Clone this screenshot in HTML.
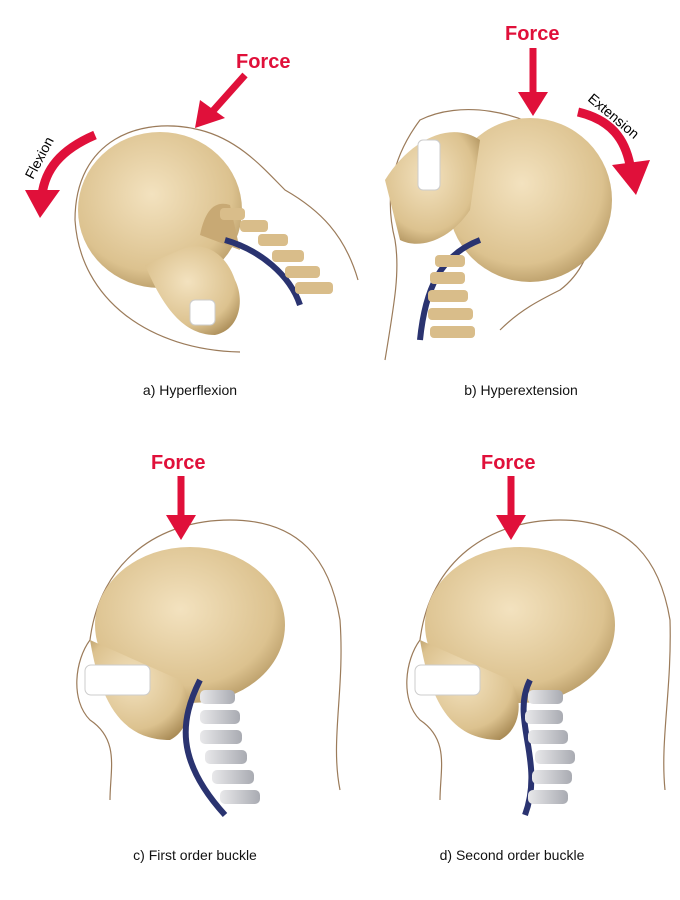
<!DOCTYPE html>
<html><head><meta charset="utf-8"><style>
body{margin:0;background:#fff}
svg{display:block}
text{font-family:"Liberation Sans",sans-serif}
</style></head><body>
<svg width="680" height="900" viewBox="0 0 680 900">
<defs>
<radialGradient id="bone" cx="0.45" cy="0.4" r="0.7">
<stop offset="0" stop-color="#f3e2bf"/><stop offset="0.7" stop-color="#dcc28f"/><stop offset="1" stop-color="#a88a55"/>
</radialGradient>
<linearGradient id="vert" x1="0" x2="1"><stop offset="0" stop-color="#e8e8ea"/><stop offset="1" stop-color="#a9abb2"/></linearGradient>
</defs>
<g fill="none" stroke="#9b7b5a" stroke-width="1.2">
<!-- a outline -->
<path d="M240,352 C150,350 80,300 75,220 C75,140 140,115 200,130 C240,140 265,170 285,190 C320,210 345,235 358,280"/>
<!-- b outline -->
<path d="M385,360 C395,300 400,270 395,240 C385,200 390,160 420,120 C460,100 520,110 560,140 C610,190 600,260 560,290 C540,300 520,310 500,330"/>
<!-- c outline -->
<path d="M110,800 C110,770 120,740 90,720 C70,700 75,660 90,640 C100,560 160,520 230,520 C300,520 330,560 340,620 C345,690 330,740 340,790"/>
<!-- d outline -->
<path d="M440,800 C440,770 450,740 420,720 C400,700 405,660 420,640 C430,560 490,520 560,520 C630,520 660,560 670,620 C672,690 660,740 665,790"/>
</g>
<!-- a skull -->
<g>
<ellipse cx="160" cy="210" rx="82" ry="78" fill="url(#bone)"/>
<path d="M145,265 C160,300 180,335 215,335 C240,330 245,300 235,280 C225,250 200,240 180,250 Z" fill="url(#bone)"/>
<path d="M200,235 C205,210 215,200 230,205 L240,250 Z" fill="#c8a974"/>
<path d="M225,240 C260,250 290,275 300,305" stroke="#2a3370" stroke-width="6" fill="none"/>
<g fill="#d9bd8a"><rect x="220" y="208" width="25" height="12" rx="4"/><rect x="240" y="220" width="28" height="12" rx="4"/><rect x="258" y="234" width="30" height="12" rx="4"/><rect x="272" y="250" width="32" height="12" rx="4"/><rect x="285" y="266" width="35" height="12" rx="4"/><rect x="295" y="282" width="38" height="12" rx="4"/></g>
<g fill="#fff" stroke="#ccc"><rect x="190" y="300" width="25" height="25" rx="5"/></g>
</g>
<!-- b skull -->
<g>
<ellipse cx="530" cy="200" rx="82" ry="82" fill="url(#bone)"/>
<path d="M385,180 C410,140 450,120 480,140 L470,210 C450,240 420,250 400,240 Z" fill="url(#bone)"/>
<path d="M420,340 C425,290 440,255 480,240" stroke="#2a3370" stroke-width="6" fill="none"/>
<g fill="#d9bd8a"><rect x="435" y="255" width="30" height="12" rx="4"/><rect x="430" y="272" width="35" height="12" rx="4"/><rect x="428" y="290" width="40" height="12" rx="4"/><rect x="428" y="308" width="45" height="12" rx="4"/><rect x="430" y="326" width="45" height="12" rx="4"/></g>
<rect x="418" y="140" width="22" height="50" rx="5" fill="#fff" stroke="#ccc"/>
</g>
<!-- c skull -->
<g>
<ellipse cx="190" cy="625" rx="95" ry="78" fill="url(#bone)"/>
<path d="M90,640 C100,700 120,740 170,740 C190,730 195,700 180,680 Z" fill="url(#bone)"/>
<rect x="85" y="665" width="65" height="30" rx="6" fill="#fff" stroke="#ccc"/>
<path d="M200,680 C180,720 175,760 225,815" stroke="#2a3370" stroke-width="6" fill="none"/>
<g fill="url(#vert)"><rect x="200" y="690" width="35" height="14" rx="5"/><rect x="200" y="710" width="40" height="14" rx="5"/><rect x="200" y="730" width="42" height="14" rx="5"/><rect x="205" y="750" width="42" height="14" rx="5"/><rect x="212" y="770" width="42" height="14" rx="5"/><rect x="220" y="790" width="40" height="14" rx="5"/></g>
</g>
<!-- d skull -->
<g>
<ellipse cx="520" cy="625" rx="95" ry="78" fill="url(#bone)"/>
<path d="M420,640 C430,700 450,740 500,740 C520,730 525,700 510,680 Z" fill="url(#bone)"/>
<rect x="415" y="665" width="65" height="30" rx="6" fill="#fff" stroke="#ccc"/>
<path d="M530,680 C510,720 545,760 525,815" stroke="#2a3370" stroke-width="6" fill="none"/>
<g fill="url(#vert)"><rect x="528" y="690" width="35" height="14" rx="5"/><rect x="525" y="710" width="38" height="14" rx="5"/><rect x="528" y="730" width="40" height="14" rx="5"/><rect x="535" y="750" width="40" height="14" rx="5"/><rect x="532" y="770" width="40" height="14" rx="5"/><rect x="528" y="790" width="40" height="14" rx="5"/></g>
</g>
<!-- arrows -->
<g fill="#e0103a" stroke="#e0103a">
<line x1="245" y1="75" x2="212" y2="112" stroke-width="7"/><polygon points="195,128 200,100 225,118" stroke="none"/>
<line x1="533" y1="48" x2="533" y2="95" stroke-width="7"/><polygon points="518,92 548,92 533,116" stroke="none"/>
<line x1="181" y1="476" x2="181" y2="518" stroke-width="7"/><polygon points="166,515 196,515 181,540" stroke="none"/>
<line x1="511" y1="476" x2="511" y2="518" stroke-width="7"/><polygon points="496,515 526,515 511,540" stroke="none"/>
<path d="M95,135 C60,150 45,170 42,195" stroke-width="9" fill="none"/><polygon points="25,190 60,190 40,218" stroke="none"/>
<path d="M578,112 C612,120 625,140 630,165" stroke-width="9" fill="none"/><polygon points="612,165 650,160 636,195" stroke="none"/>
</g>
<g fill="#e0103a" font-weight="bold" font-size="20">
<text x="236" y="68">Force</text><text x="505" y="40">Force</text><text x="151" y="469">Force</text><text x="481" y="469">Force</text>
</g>
<g font-size="14" fill="#000">
<text x="33" y="180" transform="rotate(-62 33 180)">Flexion</text>
<text x="587" y="100" transform="rotate(40 587 100)">Extension</text>
</g>
<g font-size="14" fill="#111" text-anchor="middle">
<text x="190" y="395">a) Hyperflexion</text><text x="521" y="395">b) Hyperextension</text>
<text x="195" y="860">c) First order buckle</text><text x="512" y="860">d) Second order buckle</text>
</g>
</svg>
</body></html>
